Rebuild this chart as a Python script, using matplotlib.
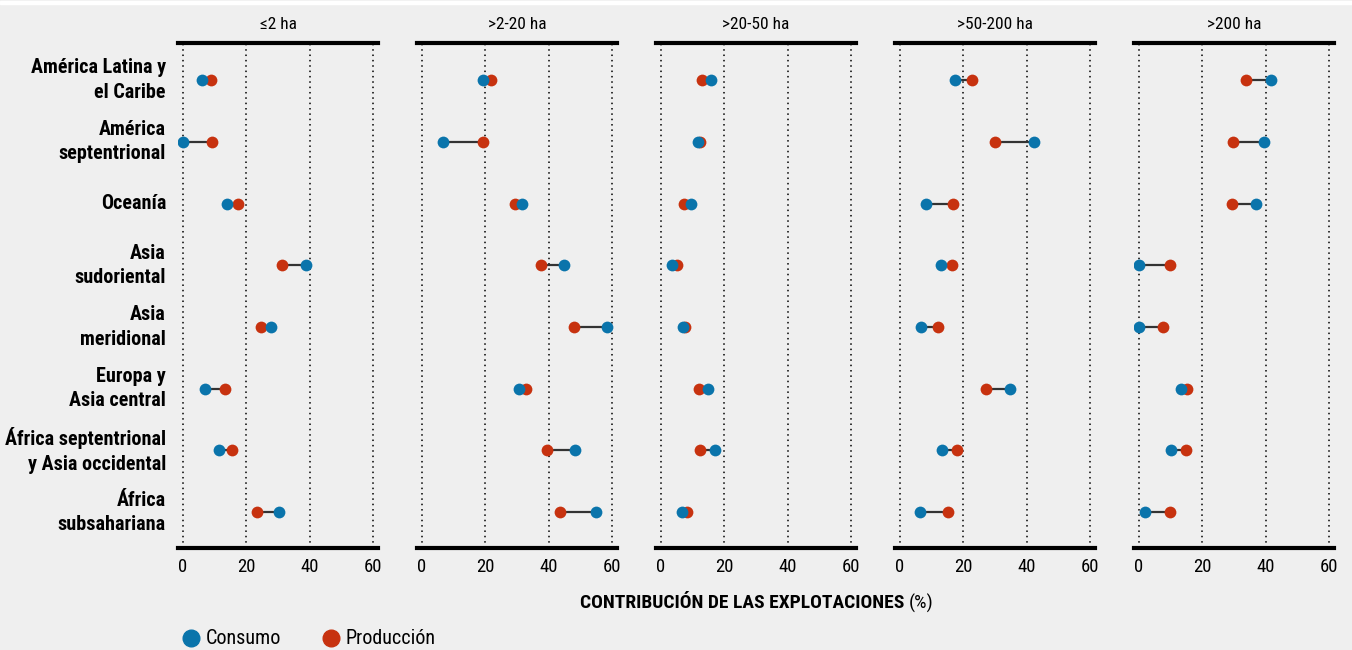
import matplotlib
matplotlib.use('Agg')
import matplotlib.pyplot as plt
from matplotlib import font_manager
import numpy as np

# pick a narrow family if one is installed
names = set(f.name for f in font_manager.fontManager.ttflist)
narrow = [n for n in ['Roboto Condensed', 'Liberation Sans Narrow', 'Open Sans Condensed',
                      'Noto Sans Condensed', 'DejaVu Sans Condensed'] if n in names]
plt.rcParams['font.family'] = narrow + ['Roboto', 'DejaVu Sans']
if not narrow:
    plt.rcParams['font.stretch'] = 'condensed'

regions = ['América Latina y\nel Caribe', 'América\nseptentrional', 'Oceanía',
           'Asia\nsudoriental', 'Asia\nmeridional', 'Europa y\nAsia central',
           'África septentrional\ny Asia occidental', 'África\nsubsahariana']
sizes = ['≤2 ha', '>2-20 ha', '>20-50 ha', '>50-200 ha', '>200 ha']

# consumo (blue) and produccion (red), one list per farm size class
consumo = [
    [5.9, 0.1, 14.0, 38.7, 27.8, 6.8, 11.4, 30.4],
    [19.4, 6.7, 31.6, 44.9, 58.3, 30.6, 48.2, 54.8],
    [15.7, 11.8, 9.5, 3.6, 7.1, 14.7, 17.1, 6.7],
    [17.5, 42.2, 8.3, 13.0, 6.6, 34.7, 13.3, 6.3],
    [41.8, 39.4, 36.8, 0.0, 0.0, 13.3, 10.1, 2.0],
]
produccion = [
    [8.9, 9.3, 17.5, 31.2, 24.7, 13.3, 15.4, 23.5],
    [21.7, 19.4, 29.4, 37.7, 47.9, 32.8, 39.6, 43.7],
    [12.9, 12.2, 7.2, 5.1, 7.7, 11.9, 12.2, 8.2],
    [22.6, 30.0, 16.6, 16.3, 11.9, 27.2, 18.1, 15.0],
    [33.9, 29.6, 29.4, 9.9, 7.6, 15.2, 14.8, 9.7],
]
xticks = [0, 20, 40, 60]

bg = '#efefef'
blue = '#0a74ab'
red = '#c7320f'

W, H = 1352, 650
fig = plt.figure(figsize=(W / 100, H / 100), dpi=100, facecolor=bg)
# thin white strip at the very top
fig.patches.append(plt.Rectangle((0, 1 - 4 / H), 1, 3 / H, transform=fig.transFigure,
                                 color='white', zorder=0))

lefts = [178, 417, 656, 895, 1134]
ypos = np.arange(len(regions))
for k, left in enumerate(lefts):
    ax = fig.add_axes([left / W, 1 - 548 / H, 200 / W, 505 / H])
    ax.set_facecolor(bg)
    ax.set_xlim(-1.58, 61.58)
    ax.set_ylim(7.58, -0.6)
    for xv in xticks:
        ax.axvline(xv, color='black', linestyle=(0, (1, 2.5)), linewidth=1.1, zorder=1)
    ax.hlines(ypos, consumo[k], produccion[k], color='#333333', linewidth=1.6, zorder=2)
    ax.scatter(produccion[k], ypos, s=72, color=red, zorder=3, linewidths=0)
    ax.scatter(consumo[k], ypos, s=72, color=blue, zorder=4, linewidths=0)
    for side in ['left', 'right']:
        ax.spines[side].set_visible(False)
    for side in ['top', 'bottom']:
        ax.spines[side].set_linewidth(3)
    ax.set_yticks([])
    ax.set_xticks(xticks)
    ax.tick_params(axis='x', length=0, pad=7, labelsize=13.5)
    ax.set_title(sizes[k], fontsize=12.5, pad=10)
    if k == 0:
        for i, lab in enumerate(regions):
            ax.text(-0.06, i, lab, transform=ax.get_yaxis_transform(), ha='right', va='center',
                    multialignment='right', fontsize=14.5, fontweight='bold', linespacing=1.35)

# axis title: bold part + plain "(%)", centred together
t1 = fig.text(0, 1 - 603 / H, 'CONTRIBUCIÓN DE LAS EXPLOTACIONES ', ha='left',
              va='center', fontsize=14, fontweight='bold')
t2 = fig.text(0, 1 - 603 / H, '(%)', ha='left', va='center', fontsize=14)
r = fig.canvas.get_renderer()
w1 = t1.get_window_extent(r).width
w2 = t2.get_window_extent(r).width
x0 = 757 - (w1 + w2) / 2
t1.set_x(x0 / W)
t2.set_x((x0 + w1) / W)

# legend
lx = [191, 331]
for x, c, t in zip(lx, [blue, red], ['Consumo', 'Producción']):
    fig.lines.append(plt.Line2D([x / W], [1 - 638 / H], marker='o', markersize=12,
                                color=c, linestyle='none', transform=fig.transFigure))
    fig.text((x + 15) / W, 1 - 638 / H, t, ha='left', va='center', fontsize=14.5)

fig.savefig('out.png', dpi=100, facecolor=bg)
